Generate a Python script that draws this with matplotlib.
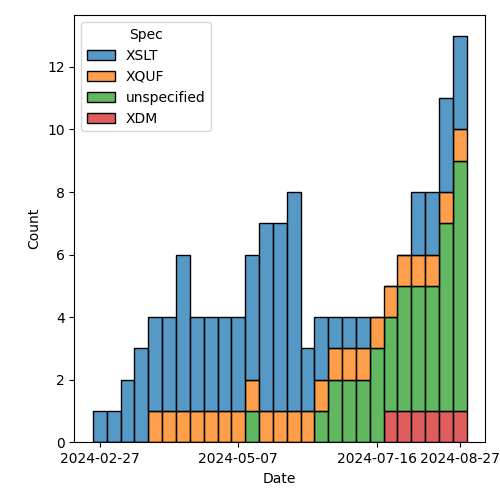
import numpy as np
import pandas as pd
import matplotlib
matplotlib.use("Agg")
import matplotlib.pyplot as plt
import matplotlib.dates as mdates
from matplotlib.colors import to_rgba

# --- Data (weekly bins, counts per spec) ---
first_bin = "2024-02-23 12:00"
n_bins = 27
bin_days = 7

specs = ["XSLT", "XQUF", "unspecified", "XDM"]
xslt = [1, 1, 2, 3, 3, 3, 5, 3, 3, 3, 3, 4, 6, 6, 7, 2, 2, 1, 1, 1, 0, 0, 0, 2, 2, 3, 3]
xquf = [0, 0, 0, 0, 1, 1, 1, 1, 1, 1, 1, 1, 1, 1, 1, 1, 1, 1, 1, 1, 1, 1, 1, 1, 1, 1, 1]
unspecified = [0, 0, 0, 0, 0, 0, 0, 0, 0, 0, 0, 1, 0, 0, 0, 0, 1, 2, 2, 2, 3, 3, 4, 4, 4, 6, 8]
xdm = [0] * 21 + [1] * 6

tick_labels = ["2024-02-27", "2024-05-07", "2024-07-16", "2024-08-27"]

counts = {"XSLT": xslt, "XQUF": xquf, "unspecified": unspecified, "XDM": xdm}
colors = {"XSLT": "tab:blue", "XQUF": "tab:orange", "unspecified": "tab:green", "XDM": "tab:red"}

bins = pd.date_range(first_bin, periods=n_bins, freq=f"{bin_days}D")
x = mdates.date2num(bins.to_pydatetime())

fig, ax = plt.subplots(figsize=(5, 5), dpi=100)
fig.subplots_adjust(left=0.1486, right=0.9706, top=0.9694, bottom=0.1154)

# stack from the last hue level upward, like seaborn does
bottom = np.zeros(n_bins)
for spec in reversed(specs):
    vals = np.array(counts[spec], dtype=float)
    ax.bar(x, vals, width=bin_days, bottom=bottom, align="edge",
           facecolor=to_rgba(colors[spec], 0.75), edgecolor="black", linewidth=1)
    bottom += vals

ax.xaxis_date()
ticks = mdates.date2num(pd.to_datetime(tick_labels).to_pydatetime())
ax.set_xticks(ticks)
ax.set_xticklabels(tick_labels)
ax.set_xlabel("Date")
ax.set_ylabel("Count")

leg_handles = [plt.Rectangle((0, 0), 1, 1, facecolor=to_rgba(colors[s], 0.75),
                             edgecolor="black", linewidth=1) for s in specs]
ax.legend(leg_handles, specs, title="Spec", loc="upper left")

plt.savefig("out.png", dpi=100)
